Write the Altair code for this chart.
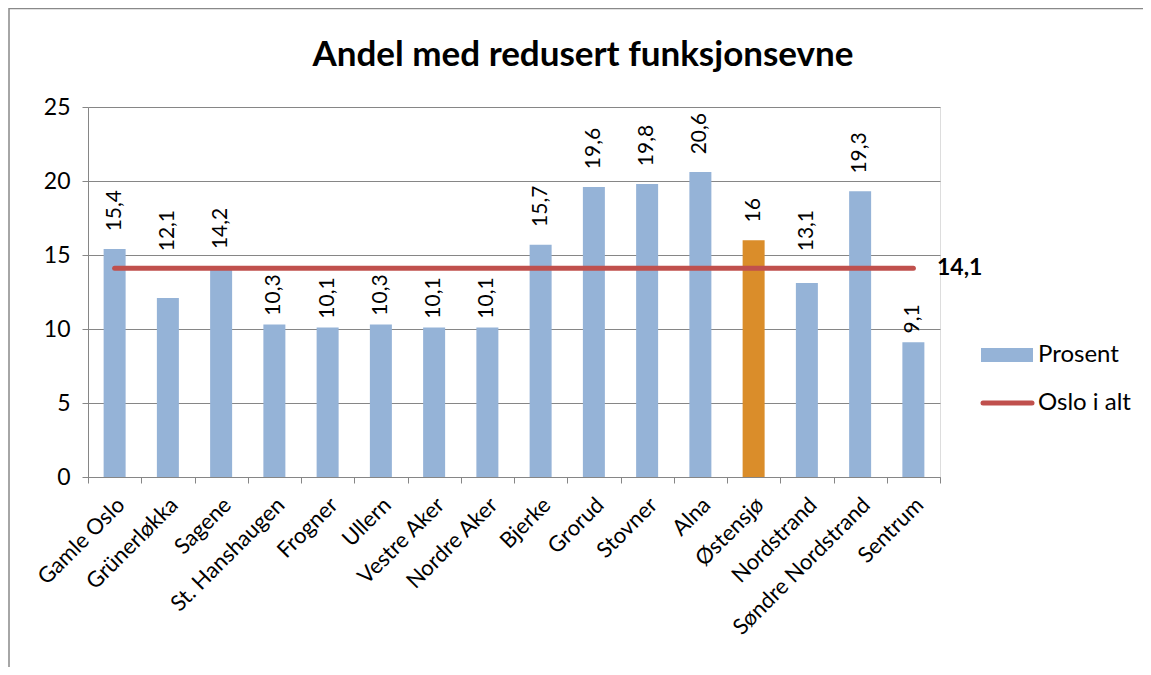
import altair as alt
import pandas as pd

categories = ["Gamle Oslo", "Grünerløkka", "Sagene", "St. Hanshaugen", "Frogner", "Ullern",
              "Vestre Aker", "Nordre Aker", "Bjerke", "Grorud", "Stovner", "Alna", "Østensjø",
              "Nordstrand", "Søndre Nordstrand", "Sentrum"]
values = [15.4, 12.1, 14.2, 10.3, 10.1, 10.3, 10.1, 10.1, 15.7, 19.6, 19.8, 20.6, 16.0, 13.1, 19.3, 9.1]
value_labels = ["15,4", "12,1", "14,2", "10,3", "10,1", "10,3", "10,1", "10,1", "15,7", "19,6",
                "19,8", "20,6", "16", "13,1", "19,3", "9,1"]
highlight = "Østensjø"
oslo_total = 14.1
oslo_label = "14,1"
title_text = "Andel med redusert funksjonsevne"
legend_names = ["Prosent", "Oslo i alt"]
y_ticks = [0, 5, 10, 15, 20, 25]

BLUE = "#95B3D7"
ORANGE = "#DA8D2A"
RED = "#C0504D"
GRID = "#868686"
FONT = "Lato"

W, H = 852, 370

df = pd.DataFrame({"kategori": categories, "verdi": values, "etikett": value_labels,
                   "total": [oslo_total] * len(categories)})

xenc = alt.X("kategori:N", sort=categories,
             scale=alt.Scale(paddingInner=0, paddingOuter=0),
             axis=alt.Axis(title=None, labelAngle=-45, labelAlign="right", labelBaseline="middle",
                           labelFontSize=22, labelFont=FONT, labelColor="black", labelPadding=18,
                           labelOffset=6, tickBand="extent", tickSize=6, tickColor=GRID,
                           domainColor=GRID, labelLimit=400))
yscale = alt.Scale(domain=[0, 25], nice=False)
yenc = alt.Y("verdi:Q", scale=yscale,
             axis=alt.Axis(title=None, values=y_ticks, labelFontSize=23, labelFont=FONT,
                           labelColor="black", tickSize=6, tickColor=GRID, domainColor=GRID,
                           gridColor=GRID, labelPadding=12))

base = alt.Chart(df)

bars = base.mark_bar(size=22).encode(
    x=xenc, y=yenc,
    color=alt.condition(alt.datum.kategori == highlight, alt.value(ORANGE), alt.value(BLUE)),
)

# value labels sit above the bar; labels that would collide with the Oslo line are lifted above it
bar_text = base.transform_calculate(
    lab_y="(datum.verdi < datum.total && datum.verdi > datum.total - 3) ? datum.total + 1.15 : "
          "(datum.verdi < datum.total ? datum.verdi + 0.6 : datum.verdi + 1.2)"
).mark_text(angle=270, align="left", baseline="middle",
            fontSize=21, font=FONT, color="black").encode(
    x=alt.X("kategori:N", sort=categories), y=alt.Y("lab_y:Q", scale=yscale), text="etikett:N")

line = base.mark_line(color=RED, strokeWidth=5, strokeCap="round").encode(
    x=alt.X("kategori:N", sort=categories), y=alt.Y("total:Q", scale=yscale))

one = pd.DataFrame({"total": [oslo_total], "lab": [oslo_label]})
total_text = alt.Chart(one).mark_text(align="left", baseline="middle", fontSize=23,
                                      fontWeight="bold", font=FONT, color="black").encode(
    x=alt.value(849), y=alt.Y("total:Q", scale=yscale), text="lab:N")

dummy = pd.DataFrame({"t": [title_text], "l1": [legend_names[0]], "l2": [legend_names[1]]})
title = alt.Chart(dummy).mark_text(fontSize=35, fontWeight="bold", font=FONT, color="black",
                                   align="center", baseline="alphabetic").encode(
    x=alt.value(495), y=alt.value(-41), text="t:N")

leg_rect = alt.Chart(dummy).mark_rect(color=BLUE).encode(
    x=alt.value(893), x2=alt.value(945), y=alt.value(241), y2=alt.value(255))
leg_line = alt.Chart(dummy).mark_rule(color=RED, strokeWidth=5, strokeCap="round").encode(
    x=alt.value(895), x2=alt.value(944), y=alt.value(296))
leg_t1 = alt.Chart(dummy).mark_text(align="left", baseline="middle", fontSize=24, font=FONT,
                                    color="black").encode(
    x=alt.value(950), y=alt.value(248), text="l1:N")
leg_t2 = alt.Chart(dummy).mark_text(align="left", baseline="middle", fontSize=24, font=FONT,
                                    color="black").encode(
    x=alt.value(950), y=alt.value(296), text="l2:N")

frame = alt.Chart(dummy).mark_rect(fill="white", fillOpacity=0, stroke="#898989",
                                   strokeWidth=1.5).encode(
    x=alt.value(-79), x2=alt.value(1080), y=alt.value(-98.5), y2=alt.value(590))

chart = alt.layer(frame, bars, line, bar_text, total_text, title, leg_rect, leg_line,
                  leg_t1, leg_t2).properties(
    width=W, height=H,
    autosize=alt.AutoSizeParams(type="none"),
    padding={"left": 80, "top": 99, "right": 203, "bottom": 190},
).configure_view(stroke=None).configure(background="white")

chart.save("out.html", embed_options={"renderer": "svg", "actions": False})
